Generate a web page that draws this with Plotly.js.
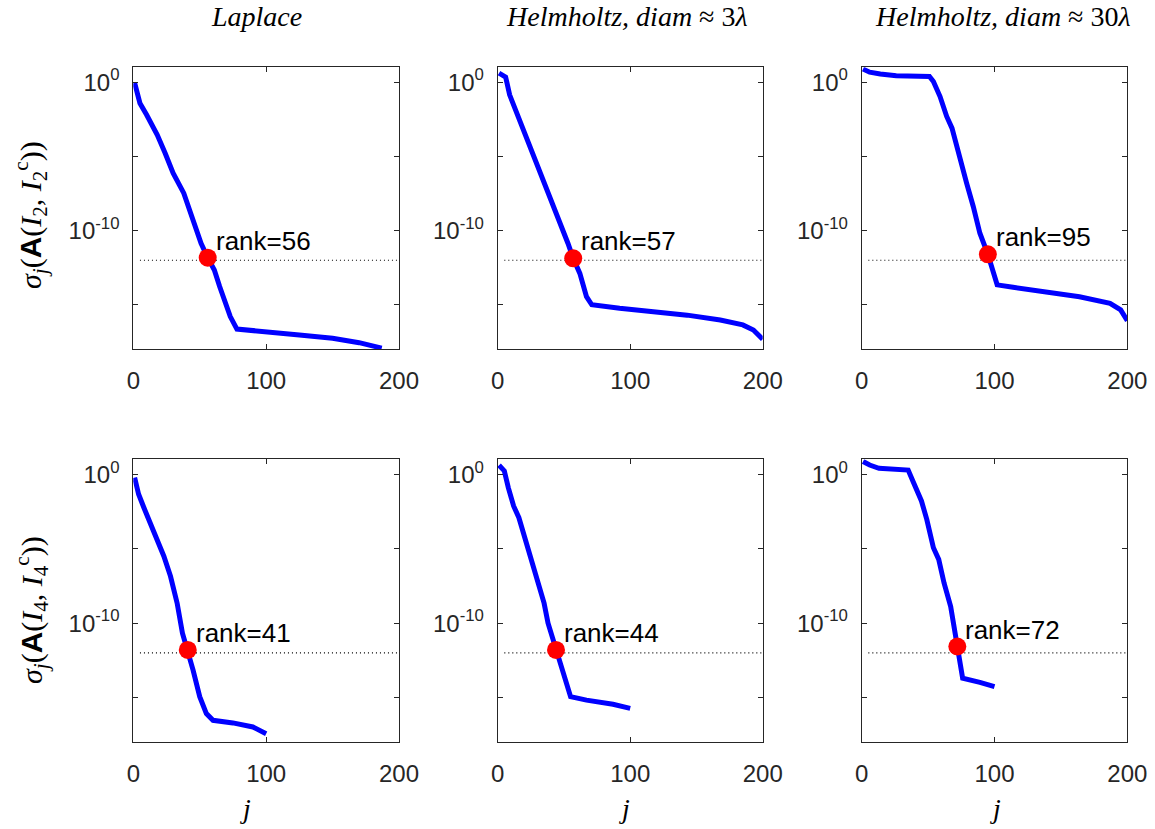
<!DOCTYPE html>
<html>
<head>
<meta charset="utf-8">
<script src="https://cdn.plot.ly/plotly-3.0.1.min.js"></script>
<style>html,body{margin:0;padding:0;background:#fff;}#chart{width:1155px;height:829px;}</style>
</head>
<body>
<div id="chart"></div>
<script>
// ---- data ----
const colTitles = ['<i>Laplace</i>', '<i>Helmholtz, diam</i> ≈ 3<i>λ</i>', '<i>Helmholtz, diam</i> ≈ 30<i>λ</i>'];
const rowLabels = [
  '<i>σ<sub>j</sub></i>(<span style="font-family:Liberation Sans"><b>A</b></span>(<i>I</i><sub>2</sub>, <i>I</i><sub>2</sub><sup>c</sup>))',
  '<i>σ<sub>j</sub></i>(<span style="font-family:Liberation Sans"><b>A</b></span>(<i>I</i><sub>4</sub>, <i>I</i><sub>4</sub><sup>c</sup>))'
];
const xLabel = '<i>j</i>';

const xTickVals = [0, 100, 200];
const xTickText = ['0', '100', '200'];
const yTickVals = [1, 1e-5, 1e-10, 1e-15];
const yTickText = ['10<sup>0</sup>', '', '10<sup>-10</sup>', ''];

const tolerance = 1e-12;
const tolX = [5, 200];

// Laplace, I2
const j_lap2   = [1, 5, 10, 18, 24, 30, 38, 45, 51, 56, 61, 65, 73, 78, 100, 125, 150, 170, 187];
const sig_lap2 = [0.89, 3.8e-2, 6.3e-3, 2.8e-4, 1.6e-5, 7.4e-7, 3.3e-8, 4.1e-10, 1.4e-11, 1.5e-12, 2.2e-13, 1.7e-14, 1.6e-16, 2.3e-17, 1.6e-17, 9.3e-18, 5.5e-18, 2.8e-18, 1.2e-18];
// Helmholtz 3 lambda, I2
const j_h3_2   = [1, 6, 9, 14, 24, 37, 47, 53, 57, 62, 67, 71, 92, 118, 143, 168, 185, 193, 200];
const sig_h3_2 = [4.0, 2.2, 1.4e-1, 1.05e-2, 7.8e-5, 9.3e-8, 5.2e-10, 1.4e-11, 1.35e-12, 1.3e-13, 3.5e-15, 1.0e-15, 5.8e-16, 3.5e-16, 2.0e-16, 9.5e-17, 4.4e-17, 2.0e-17, 4.7e-18];
// Helmholtz 30 lambda, I2
const j_h30_2   = [1, 6, 14, 26, 51, 54, 59, 64, 68, 72, 75, 79, 84, 89, 95, 99, 102, 114, 139, 164, 187, 195, 200];
const sig_h30_2 = [7.6, 4.7, 3.5, 2.7, 2.4, 1.1, 1.07e-1, 4.9e-3, 7.9e-4, 2.75e-5, 3.5e-6, 1.55e-7, 4.2e-9, 6.6e-11, 2.5e-12, 1.3e-13, 2.2e-14, 1.5e-14, 7.8e-15, 3.5e-15, 1.26e-15, 4.5e-16, 8.5e-17];
// Laplace, I4
const j_lap4   = [1, 4, 8, 15, 23, 28, 33, 37, 41, 45, 50, 55, 60, 75, 90, 100];
const sig_lap4 = [0.60, 4.5e-2, 5.6e-3, 1.95e-4, 3.1e-6, 1.4e-7, 2.2e-9, 2.1e-11, 1.6e-12, 7.1e-14, 1.15e-15, 8.5e-17, 3.0e-17, 2.0e-17, 1.07e-17, 3.8e-18];
// Helmholtz 3 lambda, I4
const j_h3_4   = [1, 5, 8, 12, 16, 22, 28, 35, 38, 44, 50, 55, 67, 87, 100];
const sig_h3_4 = [4.0, 1.66, 1.26e-1, 7.4e-3, 1.2e-3, 1.5e-5, 2.3e-7, 2.2e-9, 1.0e-10, 1.6e-12, 2.5e-14, 1.15e-15, 6.8e-16, 3.6e-16, 1.9e-16];
// Helmholtz 30 lambda, I4
const j_h30_4   = [1, 6, 13, 24, 35, 39, 45, 49, 54, 58, 62, 67, 69, 72, 74, 76, 89, 100];
const sig_h30_4 = [7.1, 4.1, 2.5, 2.2, 1.9, 2.75e-1, 1.6e-2, 9.3e-4, 1.15e-5, 1.9e-6, 5.0e-8, 1.3e-9, 1.0e-10, 2.7e-12, 2.0e-13, 2.0e-14, 1.05e-14, 5.4e-15];

const ranks     = [56, 57, 95, 41, 44, 72];
const rankSigma = [1.5e-12, 1.35e-12, 2.5e-12, 1.6e-12, 1.6e-12, 2.7e-12];

const panelJ   = [j_lap2, j_h3_2, j_h30_2, j_lap4, j_h3_4, j_h30_4];
const panelSig = [sig_lap2, sig_h3_2, sig_h30_2, sig_lap4, sig_h3_4, sig_h30_4];

// ---- layout geometry (pixels) ----
const W = 1155, H = 829;
const colPx = [[133.3, 399], [497.7, 762.7], [861.7, 1127.3]];
const rowPx = [[67.3, 349.3], [459.3, 742.3]];
const titleX = [256, 627, 1003];
const jLabelX = [246, 624, 995];
const rowLabelY = [215, 610];

const axisColor = '#262626';
const tickFont = {family: 'Liberation Sans, Arial, sans-serif', size: 24, color: axisColor};

const traces = [];
const layout = {
  width: W, height: H,
  margin: {l: 0, r: 0, t: 0, b: 0},
  paper_bgcolor: '#ffffff', plot_bgcolor: '#ffffff',
  showlegend: false,
  annotations: []
};

for (let k = 0; k < 6; k++) {
  const r = Math.floor(k / 3), c = k % 3;
  const xa = 'x' + (k + 1), ya = 'y' + (k + 1);
  const xKey = 'xaxis' + (k + 1), yKey = 'yaxis' + (k + 1);
  layout[xKey] = {
    domain: [colPx[c][0] / W, colPx[c][1] / W],
    anchor: ya,
    range: [0, 200],
    tickmode: 'array', tickvals: xTickVals, ticktext: xTickText,
    ticks: 'inside', ticklen: 5, tickcolor: axisColor, tickwidth: 1,
    showline: true, linecolor: axisColor, linewidth: 1, mirror: 'ticks',
    showgrid: false, zeroline: false,
    tickfont: tickFont, ticklabelstandoff: 10
  };
  layout[yKey] = {
    domain: [1 - rowPx[r][1] / H, 1 - rowPx[r][0] / H],
    anchor: xa,
    type: 'log', range: [-18, 1],
    tickmode: 'array', tickvals: yTickVals, ticktext: yTickText,
    ticks: 'inside', ticklen: 5, tickcolor: axisColor, tickwidth: 1,
    showline: true, linecolor: axisColor, linewidth: 1, mirror: 'ticks',
    showgrid: false, zeroline: false,
    tickfont: tickFont, ticklabelstandoff: 8
  };
  // tolerance line
  traces.push({
    x: tolX, y: [tolerance, tolerance], xaxis: xa, yaxis: ya,
    mode: 'lines', line: {color: '#000000', width: 1.2, dash: '1px,3px'}, hoverinfo: 'skip'
  });
  // singular values
  traces.push({
    x: panelJ[k], y: panelSig[k], xaxis: xa, yaxis: ya,
    mode: 'lines', line: {color: '#0000ff', width: 5}
  });
  // rank marker
  traces.push({
    x: [ranks[k]], y: [rankSigma[k]], xaxis: xa, yaxis: ya,
    mode: 'markers', marker: {color: '#ff0000', size: 18, line: {width: 0}}
  });
  layout.annotations.push({
    xref: xa, yref: ya, x: ranks[k], y: Math.log10(rankSigma[k]),
    text: 'rank=' + ranks[k], showarrow: false,
    xanchor: 'left', yanchor: 'middle', xshift: 6, yshift: 17,
    font: {family: 'Liberation Sans, Arial, sans-serif', size: 26, color: '#000000'}
  });
}

// column titles
for (let c = 0; c < 3; c++) {
  layout.annotations.push({
    xref: 'paper', yref: 'paper', x: titleX[c] / W, y: 1 - 17 / H,
    text: colTitles[c], showarrow: false, xanchor: 'center', yanchor: 'middle',
    font: {family: 'Liberation Serif, Times New Roman, serif', size: 28, color: '#000000'}
  });
  layout.annotations.push({
    xref: 'paper', yref: 'paper', x: jLabelX[c] / W, y: 1 - 808 / H,
    text: xLabel, showarrow: false, xanchor: 'center', yanchor: 'middle',
    font: {family: 'Liberation Serif, Times New Roman, serif', size: 28, color: '#000000'}
  });
}
// row labels
for (let r = 0; r < 2; r++) {
  layout.annotations.push({
    xref: 'paper', yref: 'paper', x: 31 / W, y: 1 - rowLabelY[r] / H,
    text: rowLabels[r], showarrow: false, textangle: -90,
    xanchor: 'center', yanchor: 'middle',
    font: {family: 'Liberation Serif, Times New Roman, serif', size: 30, color: '#000000'}
  });
}

Plotly.newPlot('chart', traces, layout, {staticPlot: true, displayModeBar: false});
</script>
</body>
</html>
